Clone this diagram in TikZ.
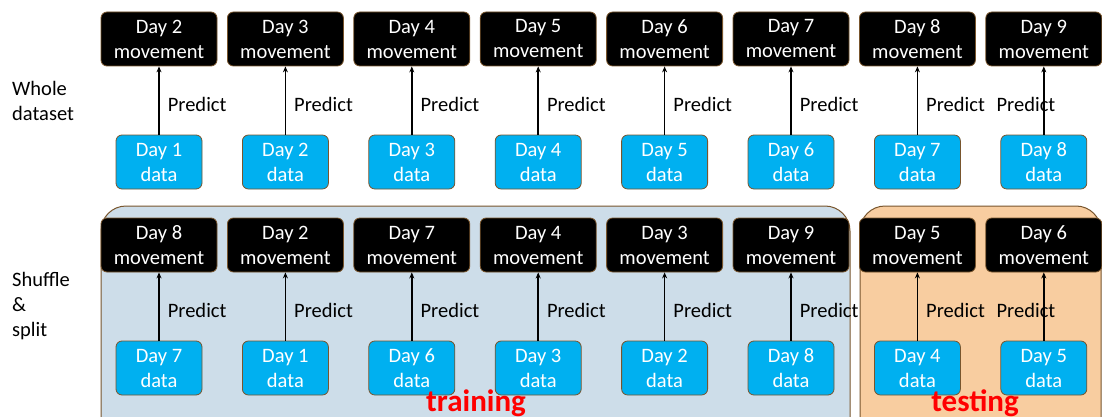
\documentclass[tikz,border=0pt]{standalone}
\usepackage{fontspec}
\setmainfont{Carlito}
\usetikzlibrary{arrows.meta, positioning}
\definecolor{edgebrown}{RGB}{120, 85, 45}
\definecolor{datablue}{RGB}{0, 176, 240}
\definecolor{trainblue}{RGB}{205, 221, 233}
\definecolor{testpeach}{RGB}{248, 205, 160}
\definecolor{labelred}{RGB}{255, 0, 0}

\begin{document}
\begin{tikzpicture}[x=1pt, y=-1pt,
  boxfont/.style={font=\fontsize{20.5}{25}\selectfont},
  movebox/.style={draw=edgebrown, fill=black, text=white, rounded corners=6pt, minimum width=116pt, minimum height=54pt, inner sep=0pt, align=center, line width=0.8pt, boxfont},
  databox/.style={draw=edgebrown, fill=datablue, text=white, rounded corners=6pt, minimum width=86pt, minimum height=54pt, inner sep=0pt, align=center, line width=0.8pt, boxfont},
  predarrow/.style={-{Stealth[length=6pt, width=5pt]}, line width=1.6pt},
  predlabel/.style={right, inner sep=0pt, yshift=-3.5pt, text=black, boxfont},
  panel/.style={draw=edgebrown, rounded corners=25pt, line width=1pt},
  sidelabel/.style={anchor=west, align=left, inner sep=0pt, boxfont},
  splitlabel/.style={anchor=base, text=labelred, font=\fontsize{31}{36}\selectfont\bfseries}]

  \useasboundingbox (0,0) rectangle (1102,417);
  \clip (0,0) rectangle (1102,417);

  % train / test panels
  \draw[panel, fill=trainblue] (101,206) rectangle (850,445);
  \draw[panel, fill=testpeach] (860,206) rectangle (1101,445);

  \node[sidelabel] (whole) at (12,100.5) {Whole\\dataset};
  \node[sidelabel] (shuffle) at (12,306.5) {Shuffle\\\&\\split};

  % whole dataset row (last label sits left of its arrow)
  \foreach \i/\mv/\dt/\lx in {0/2/1/8, 1/3/2/8, 2/4/3/8, 3/5/4/8, 4/6/5/8, 5/7/6/8, 6/8/7/8, 7/9/8/-48} {
    \node[movebox] (wm\i) at ({159+126.4*\i},39) {Day \mv\\movement};
    \node[databox] (wd\i) at ({159+126.4*\i},162) {Day \dt\\data};
    \draw[predarrow] (wd\i) -- (wm\i) node[midway, predlabel, xshift=\lx pt] {Predict};
  }

  % shuffled and split row
  \foreach \i/\mv/\dt/\lx in {0/8/7/8, 1/2/1/8, 2/7/6/8, 3/4/3/8, 4/3/2/8, 5/9/8/8, 6/5/4/8, 7/6/5/-48} {
    \node[movebox] (sm\i) at ({159+126.4*\i},245) {Day \mv\\movement};
    \node[databox] (sd\i) at ({159+126.4*\i},368) {Day \dt\\data};
    \draw[predarrow] (sd\i) -- (sm\i) node[midway, predlabel, xshift=\lx pt] {Predict};
  }

  \node[splitlabel] (training) at (476,411.5) {training};
  \node[splitlabel] (testing) at (975,411.5) {testing};
\end{tikzpicture}
\end{document}
